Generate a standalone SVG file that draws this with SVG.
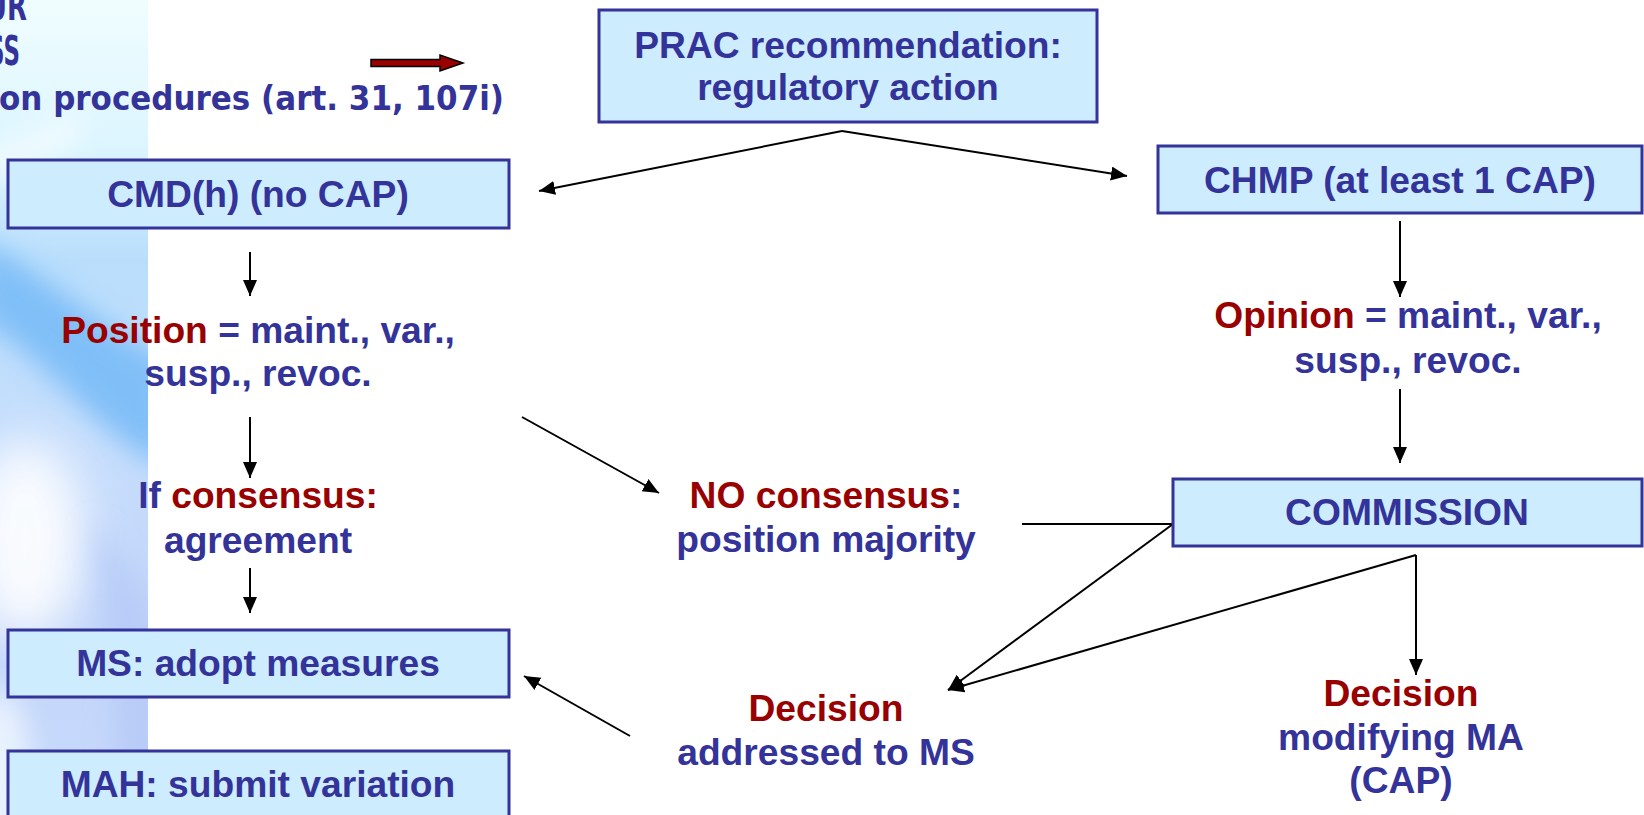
<svg xmlns="http://www.w3.org/2000/svg" width="1644" height="815" viewBox="0 0 1644 815">
<defs>
  <linearGradient id="strip" x1="0" y1="0" x2="0" y2="1">
    <stop offset="0" stop-color="#f0fdff"/>
    <stop offset="0.18" stop-color="#dcf5ff"/>
    <stop offset="0.32" stop-color="#b9defc"/>
    <stop offset="0.55" stop-color="#c6ddfc"/>
    <stop offset="0.75" stop-color="#c2d6fa"/>
    <stop offset="1" stop-color="#c8d9fb"/>
  </linearGradient>
  <filter id="blur" x="-50%" y="-50%" width="200%" height="200%">
    <feGaussianBlur stdDeviation="14"/>
  </filter>
  <filter id="blur2" x="-80%" y="-80%" width="260%" height="260%">
    <feGaussianBlur stdDeviation="24"/>
  </filter>
  <clipPath id="stripClip"><rect x="0" y="0" width="148" height="815"/></clipPath>
  <marker id="ah" markerUnits="userSpaceOnUse" markerWidth="18" markerHeight="16" refX="16" refY="7" orient="auto">
    <path d="M0,0 L16,7 L0,14 z" fill="#000"/>
  </marker>
  <style>
    .box { fill: #cdedff; stroke: #333399; stroke-width: 3; }
    .t { font-family: "Liberation Sans", Arial, sans-serif; font-weight: bold; font-size: 37.2px; fill: #333399; text-anchor: middle; }
    .r { fill: #990000; }
    .hdr { font-family: "DejaVu Sans", Verdana, sans-serif; font-weight: bold; fill: #333399; }
    .c { fill: none; stroke: #000; stroke-width: 2; }
    .ca { fill: none; stroke: #000; stroke-width: 2; marker-end: url(#ah); }
  </style>
</defs>

<g id="background">
  <rect x="0" y="0" width="1644" height="815" fill="#ffffff"/>
  <g clip-path="url(#stripClip)">
    <rect x="0" y="0" width="148" height="815" fill="url(#strip)"/>
    <path d="M-20,240 C40,270 100,330 170,360 L170,470 C100,440 40,350 -20,320 z" fill="#74b9f7" filter="url(#blur)" opacity="0.85"/>
    <path d="M-20,150 C20,140 50,130 80,110 L80,140 C50,160 20,175 -20,190 z" fill="#ffffff" filter="url(#blur)" opacity="0.6"/>
    <ellipse cx="25" cy="540" rx="60" ry="100" fill="#ffffff" filter="url(#blur2)" opacity="0.9"/>
    <ellipse cx="0" cy="770" rx="30" ry="80" fill="#f2f9ff" filter="url(#blur)" opacity="0.8"/>
    <path d="M90,520 C130,560 160,620 170,680 L170,815 L110,815 C120,720 110,620 90,520 z" fill="#b2c7f6" filter="url(#blur)" opacity="0.7"/>
  </g>
</g>

<g id="header">
  <text class="hdr" x="-14" y="20" font-size="40" textLength="41" lengthAdjust="spacingAndGlyphs">UR</text>
  <text class="hdr" x="-12" y="65" font-size="40" textLength="32" lengthAdjust="spacingAndGlyphs">SS</text>
  <text class="hdr" x="-1" y="110" font-size="33" textLength="505" lengthAdjust="spacingAndGlyphs">on procedures (art. 31, 107i)</text>
  <path id="red-arrow" d="M371,59.5 L440,59.5 L440,55 L463,63 L440,71 L440,66.5 L371,66.5 z" fill="#990000" stroke="#000" stroke-width="1.5"/>
</g>

<g id="connectors">
  <line class="ca" x1="842" y1="131" x2="539" y2="191"/>
  <line class="ca" x1="842" y1="131" x2="1127" y2="176"/>
  <line class="ca" x1="250" y1="252" x2="250" y2="296"/>
  <line class="ca" x1="250" y1="417" x2="250" y2="478"/>
  <line class="ca" x1="250" y1="568" x2="250" y2="613"/>
  <line class="ca" x1="1400" y1="221" x2="1400" y2="297"/>
  <line class="ca" x1="1400" y1="389" x2="1400" y2="463"/>
  <line class="ca" x1="522" y1="417" x2="659" y2="493"/>
  <line class="c" x1="1022" y1="524" x2="1173" y2="524"/>
  <line class="ca" x1="1173" y1="524" x2="948" y2="690"/>
  <line class="ca" x1="1416" y1="555" x2="948" y2="690"/>
  <line class="ca" x1="1416" y1="555" x2="1416" y2="675"/>
  <line class="ca" x1="630" y1="736" x2="524" y2="676"/>
</g>

<g id="prac">
  <rect class="box" x="599" y="10" width="498" height="112"/>
  <text class="t" x="848" y="58">PRAC recommendation:</text>
  <text class="t" x="848" y="100">regulatory action</text>
</g>
<g id="cmdh">
  <rect class="box" x="8" y="160" width="501" height="68"/>
  <text class="t" x="258" y="207">CMD(h) (no CAP)</text>
</g>
<g id="chmp">
  <rect class="box" x="1158" y="146" width="484" height="67"/>
  <text class="t" x="1400" y="193">CHMP (at least 1 CAP)</text>
</g>
<g id="position">
  <text class="t" x="258" y="343"><tspan class="r">Position</tspan> = maint., var.,</text>
  <text class="t" x="258" y="386">susp., revoc.</text>
</g>
<g id="opinion">
  <text class="t" x="1408" y="328"><tspan class="r">Opinion</tspan> = maint., var.,</text>
  <text class="t" x="1408" y="373">susp., revoc.</text>
</g>
<g id="consensus">
  <text class="t" x="258" y="508">If <tspan class="r">consensus:</tspan></text>
  <text class="t" x="258" y="553">agreement</text>
</g>
<g id="no-consensus">
  <text class="t" x="826" y="508"><tspan class="r">NO consensus</tspan>:</text>
  <text class="t" x="826" y="552">position majority</text>
</g>
<g id="commission">
  <rect class="box" x="1173" y="479" width="469" height="67"/>
  <text class="t" x="1407" y="525">COMMISSION</text>
</g>
<g id="ms">
  <rect class="box" x="8" y="630" width="501" height="67"/>
  <text class="t" x="258" y="676">MS: adopt measures</text>
</g>
<g id="mah">
  <rect class="box" x="8" y="751" width="501" height="80"/>
  <text class="t" x="258" y="797">MAH: submit variation</text>
</g>
<g id="decision-ms">
  <text class="t r" x="826" y="721">Decision</text>
  <text class="t" x="826" y="765">addressed to MS</text>
</g>
<g id="decision-ma">
  <text class="t r" x="1401" y="706">Decision</text>
  <text class="t" x="1401" y="750">modifying MA</text>
  <text class="t" x="1401" y="793">(CAP)</text>
</g>
</svg>
